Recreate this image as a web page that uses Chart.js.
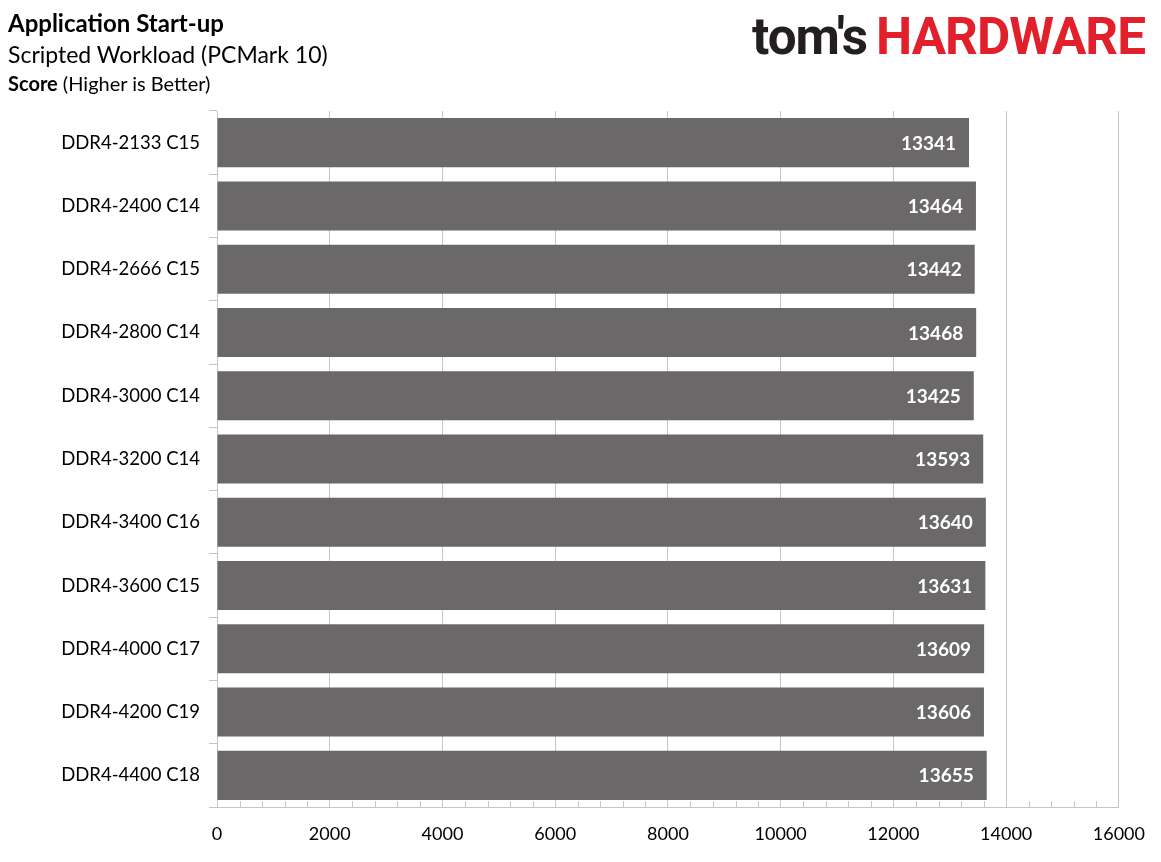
<!DOCTYPE html>
<html>
<head>
<meta charset="utf-8">
<script src="https://cdn.jsdelivr.net/npm/chart.js@4"></script>
<style>
  html, body { margin: 0; padding: 0; background: #fff; }
  body { width: 1161px; height: 862px; position: relative; overflow: hidden; font-family: Lato, "Open Sans", sans-serif; }
  #wrap { position: absolute; left: 0; top: 0; width: 1161px; height: 862px; }
  .t { position: absolute; left: 8px; color: #000; white-space: nowrap; }
  #title { top: 8px; font-size: 24px; font-weight: bold; }
  #sub { top: 40px; font-size: 23px; }
  #score { top: 71px; font-size: 20px; }
  #logo { position: absolute; left: 752px; top: 6px; white-space: nowrap; font-family: Roboto, sans-serif; font-weight: bold; font-size: 52px; transform-origin: 0 0; letter-spacing: -1px; }
  #logo .a { color: #231f20; }
  #logo .b { color: #e2202b; margin-left: 9px; }
</style>
</head>
<body>
<div id="wrap"><canvas id="chart"></canvas></div>
<div class="t" id="title">Application Start-up</div>
<div class="t" id="sub">Scripted Workload (PCMark 10)</div>
<div class="t" id="score"><b>Score</b> (Higher is Better)</div>
<div id="logo"><span class="a">tom's</span><span class="b">HARDWARE</span></div>
<script>
// данные графика
const categories = [
  "DDR4-2133 C15", "DDR4-2400 C14", "DDR4-2666 C15", "DDR4-2800 C14",
  "DDR4-3000 C14", "DDR4-3200 C14", "DDR4-3400 C16", "DDR4-3600 C15",
  "DDR4-4000 C17", "DDR4-4200 C19", "DDR4-4400 C18"
];
const scores = [13341, 13464, 13442, 13468, 13425, 13593, 13640, 13631, 13609, 13606, 13655];
const xTicks = [0, 2000, 4000, 6000, 8000, 10000, 12000, 14000, 16000];
const minorStep = 400;

// logo fit to width
const logo = document.getElementById("logo");
const w = logo.getBoundingClientRect().width;
logo.style.transform = `scaleX(${393 / w})`;

// value labels inside bar ends
const valueLabels = {
  id: "valueLabels",
  afterDatasetsDraw(chart) {
    const c = chart.ctx;
    const meta = chart.getDatasetMeta(0);
    c.save();
    c.font = "bold 19px Lato, sans-serif";
    c.fillStyle = "#fff";
    c.textAlign = "right";
    c.textBaseline = "middle";
    meta.data.forEach((bar, i) => {
      c.fillText(String(scores[i]), bar.x - 13, bar.y + 1);
    });
    c.restore();
  }
};

// minor ticks on the x axis (inside)
const minorTicks = {
  id: "minorTicks",
  afterDraw(chart) {
    const x = chart.scales.x;
    const c = chart.ctx;
    const bottom = chart.chartArea.bottom;
    c.save();
    c.strokeStyle = "#c6c6c6";
    c.lineWidth = 1;
    for (let v = 0; v <= x.max; v += minorStep) {
      if (v % 2000 === 0) continue;
      const px = Math.round(x.getPixelForValue(v)) + 0.5;
      c.beginPath();
      c.moveTo(px, bottom - 6);
      c.lineTo(px, bottom);
      c.stroke();
    }
    c.restore();
  }
};

const ctx = document.getElementById("chart");
new Chart(ctx, {
  type: "bar",
  data: {
    labels: categories,
    datasets: [{
      data: scores,
      backgroundColor: "#6b6869",
      barPercentage: 0.775,
      categoryPercentage: 1.0
    }]
  },
  options: {
    indexAxis: "y",
    responsive: true,
    maintainAspectRatio: false,
    animation: false,
    layout: { padding: { top: 111, right: 42, bottom: 0, left: 0 } },
    plugins: { legend: { display: false }, tooltip: { enabled: false } },
    scales: {
      x: {
        min: 0,
        max: 16000,
        z: 1,
        afterBuildTicks: s => { s.ticks = xTicks.map(v => ({ value: v })); },
        afterFit: s => { s.height = 55; },
        grid: { color: "rgba(0,0,0,0.22)", drawTicks: false },
        border: { color: "#c6c6c6" },
        ticks: {
          color: "#000",
          padding: 16,
          callback: v => String(v),
          font: { family: "Lato, sans-serif", size: 18 }
        }
      },
      y: {
        afterFit: s => { s.width = 217; },
        grid: { offset: true, drawOnChartArea: false, tickLength: 8, color: "#c6c6c6" },
        border: { color: "#c6c6c6" },
        ticks: {
          color: "#000",
          padding: 9,
          font: { family: "Lato, sans-serif", size: 18.5 }
        }
      }
    }
  },
  plugins: [valueLabels, minorTicks]
});
</script>
</body>
</html>
